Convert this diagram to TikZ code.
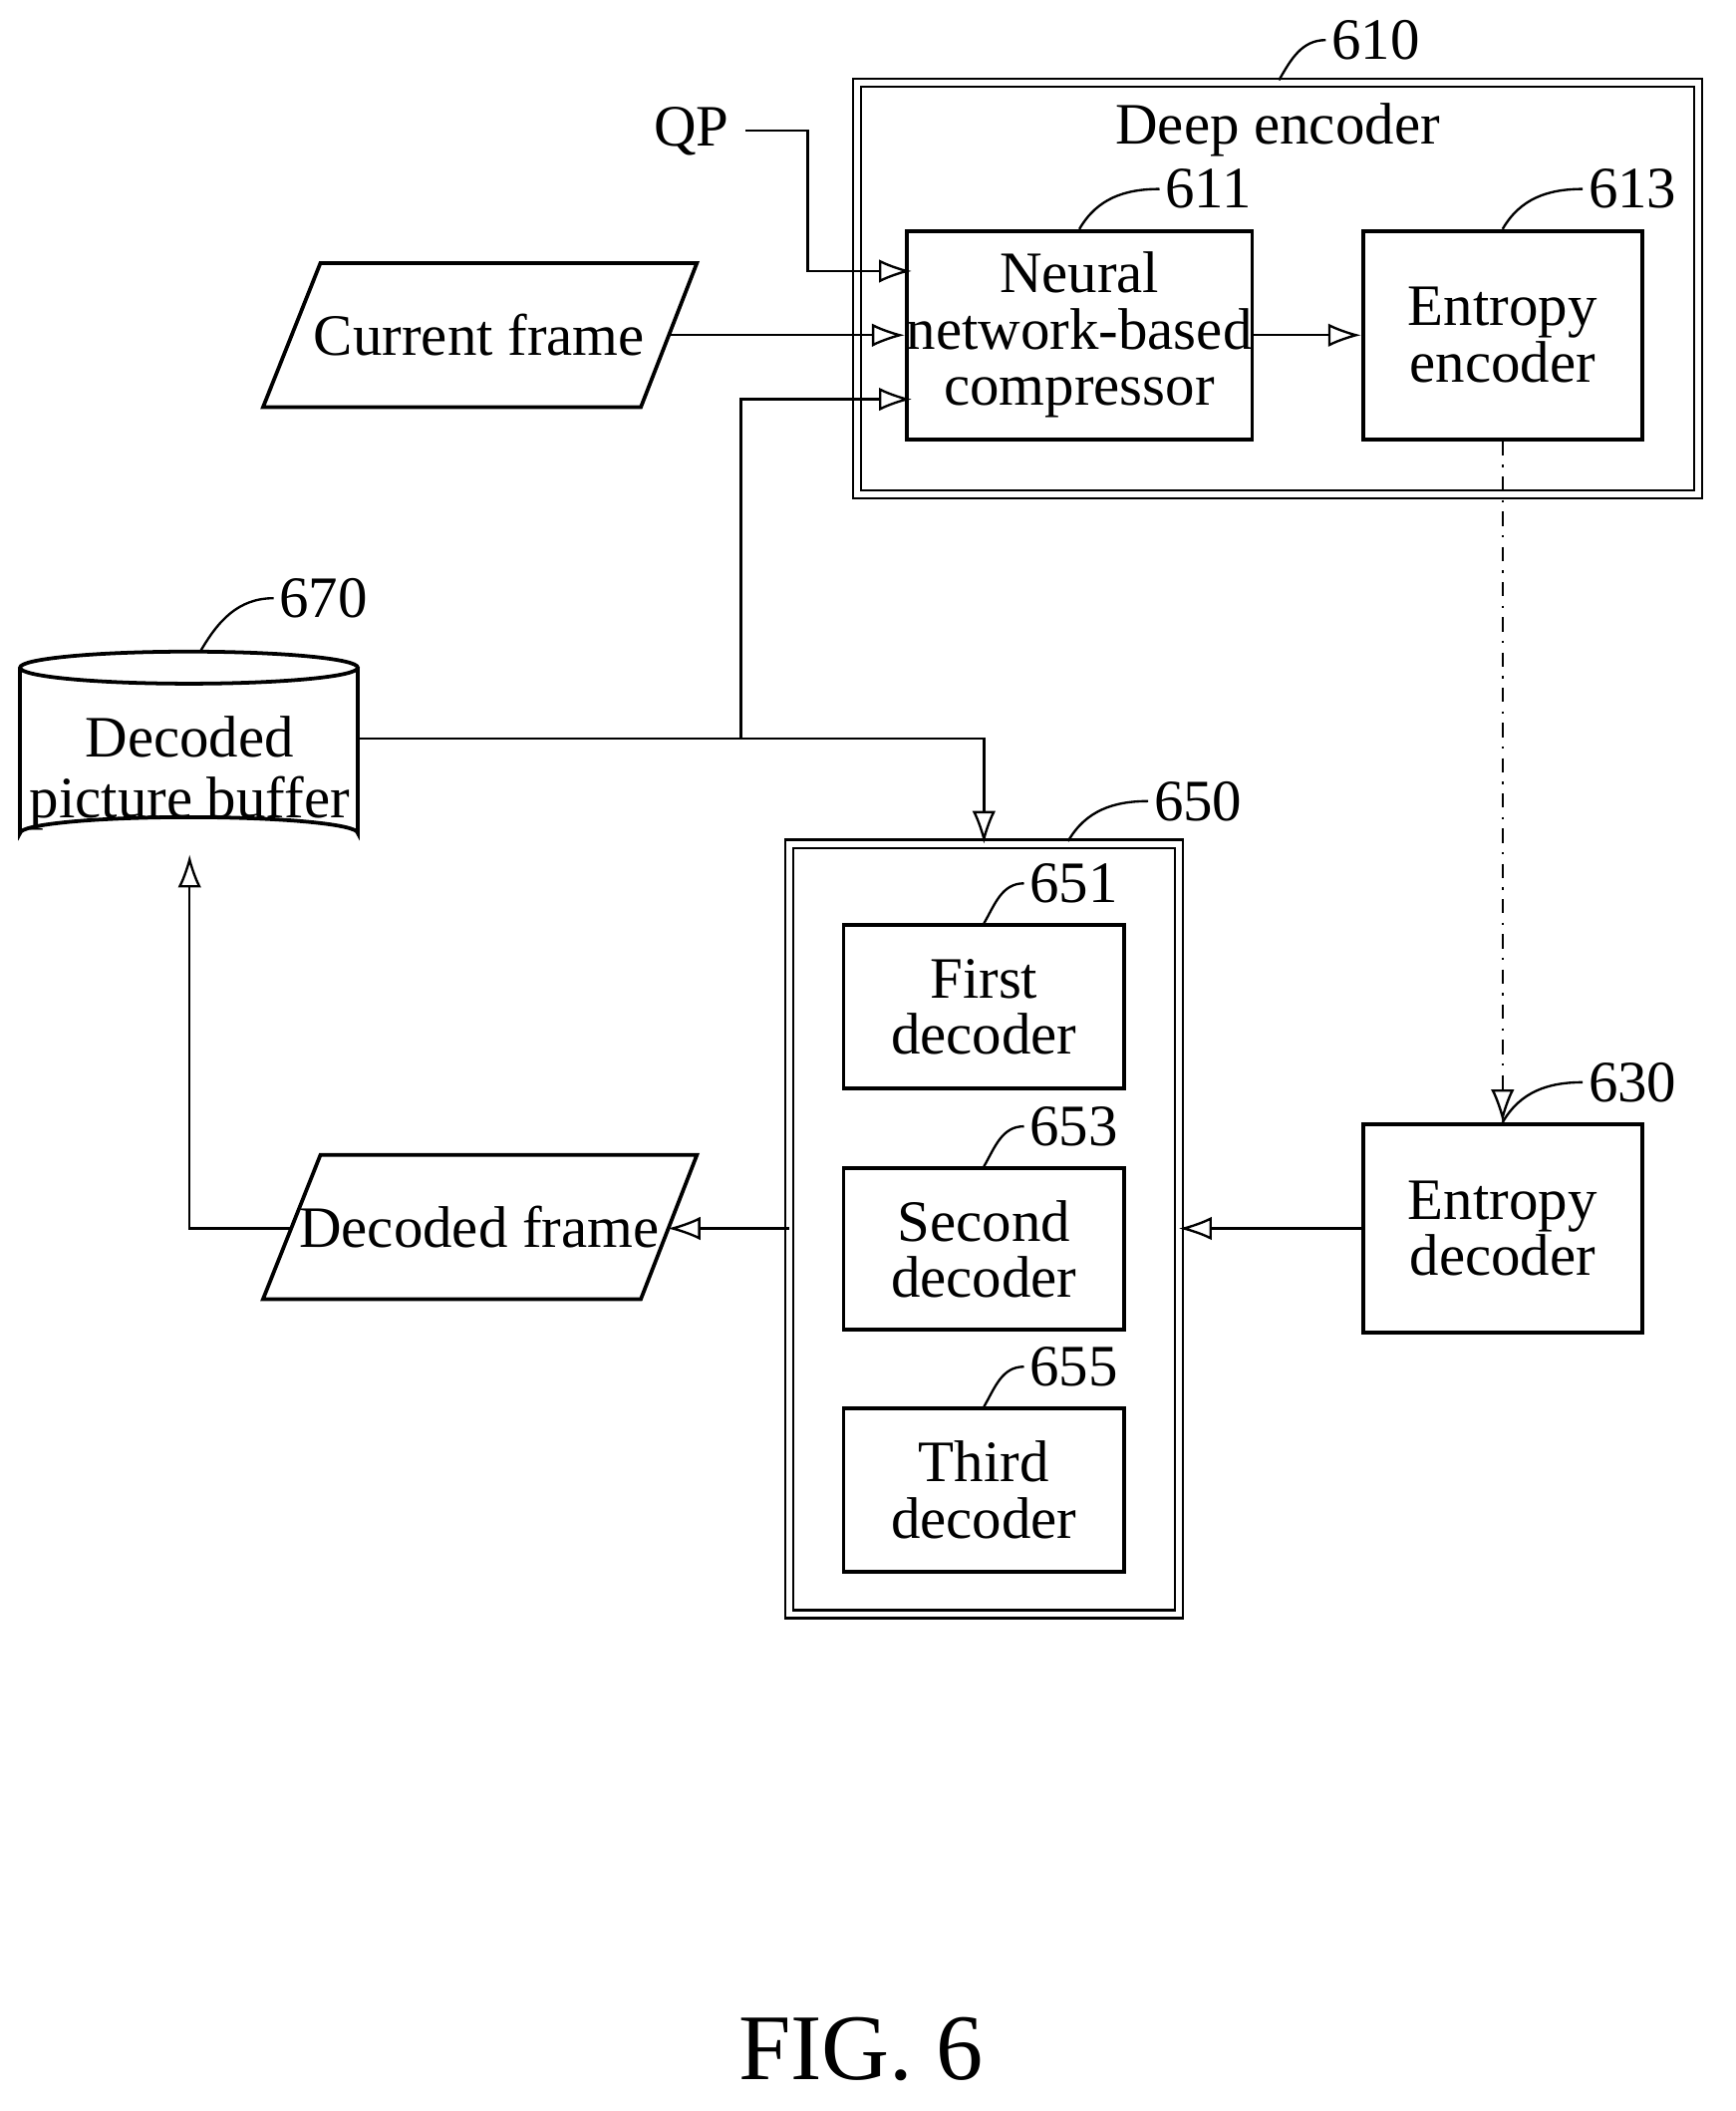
\documentclass[tikz,border=0pt]{standalone}
\usepackage{fontspec}
\setmainfont{Liberation Serif}
\usetikzlibrary{arrows.meta}
\tikzset{
  blk/.style={draw, line width=0.8pt, align=center, inner sep=0pt},
  outer/.style={draw, double, double distance=1.2pt, line width=0.5pt},
  frmline/.style={line width=0.8pt},
  flow/.style={-{Latex[open,length=7pt,width=5pt]}, line width=0.5pt},
  leader/.style={line width=0.5pt},
}
\newcommand{\reflabel}[3]{\draw[leader] (#1) to[out=60,in=180] ++(#2) node[right, inner sep=1pt] {#3};}
\newcommand{\frameshape}[1]{\draw[frmline] (197,#1+54) -- (240,#1-54) -- (522,#1-54) -- (480,#1+54) -- cycle;}
\begin{document}
\begin{tikzpicture}[x=0.01cm,y=-0.01cm,font=\fontsize{12.5}{14}\selectfont]
\useasboundingbox (0,0) rectangle (1300,1581);

% deep encoder
\draw[outer] (642,62) rectangle (1272,370);
\node (deep) at (957,97) {Deep encoder};
\coordinate (c610) at (958,60);
\reflabel{c610}{35,-30}{610}
\node[blk, minimum width=2.51cm, minimum height=1.56cm] (comp) at (808.5,251) {Neural\\[-2pt]network-based\\[-2pt]compressor};
\reflabel{comp.north}{60,-30}{611}
\node[blk, minimum width=2.09cm, minimum height=1.56cm] (entenc) at (1125.5,251) {Entropy\\[-2pt]encoder};
\reflabel{entenc.north}{60,-30}{613}
\coordinate (compqp) at (683,203);
\coordinate (compref) at (683,299);

% inputs
\node (qp) at (518,98) {QP};
\coordinate (qpc) at (605,98);
\frameshape{251}
\node (cur) at (359,251) {Current frame};
\coordinate (curr) at (500,251);
\draw[flow] (qp.east) -- (qpc) |- (compqp);
\draw[flow] (curr) -- (comp.west);
\draw[flow] (comp.east) -- (entenc.west);

% decoded picture buffer
\draw[line width=0.8pt] (15,500) -- (15,624) arc (180:360:126.5 and 12) -- (268,500);
\draw[line width=0.8pt] (141.5,500) ellipse (126.5 and 12);
\node[align=center] (dpb) at (142,579) {Decoded\\[-1pt]picture buffer};
\coordinate (dpbtop) at (150,488);
\reflabel{dpbtop}{55,-40}{670}
\coordinate (dpbr) at (268,553);
\coordinate (dpbb) at (142,640);
\coordinate (j) at (555,553);

% decoder
\draw[outer] (591,632) rectangle (883,1209);
\coordinate (c650) at (800,630);
\reflabel{c650}{60,-30}{650}
\coordinate (dtop) at (737,632);
\node[blk, minimum width=2.1cm, minimum height=1.22cm] (d1) at (737,754) {First\\[-2pt]decoder};
\reflabel{d1.north}{30,-30}{651}
\node[blk, minimum width=2.1cm, minimum height=1.21cm] (d2) at (737,935.5) {Second\\[-2pt]decoder};
\reflabel{d2.north}{30,-30}{653}
\node[blk, minimum width=2.1cm, minimum height=1.22cm] (d3) at (737,1116) {Third\\[-2pt]decoder};
\reflabel{d3.north}{30,-30}{655}
\coordinate (decl) at (591,920);
\coordinate (decr) at (883,920);

\node[blk, minimum width=2.09cm, minimum height=1.56cm] (entdec) at (1125.5,920) {Entropy\\[-2pt]decoder};
\reflabel{entdec.north}{60,-30}{630}
\frameshape{919}
\node (decf) at (359,919) {Decoded frame};
\coordinate (decfr) at (500,920);
\coordinate (decfl) at (218,920);

% connectors
\draw[flow, dash dot] (entenc.south) -- (entdec.north);
\draw[flow] (entdec.west) -- (decr);
\draw[flow] (decl) -- (decfr);
\draw[flow] (decfl) -| (dpbb);
\draw[flow] (dpbr) -| (dtop);
\draw[flow] (j) |- (compref);

\node (fig) at (645,1535) {\fontsize{20}{22}\selectfont FIG. 6};
\end{tikzpicture}
\end{document}
